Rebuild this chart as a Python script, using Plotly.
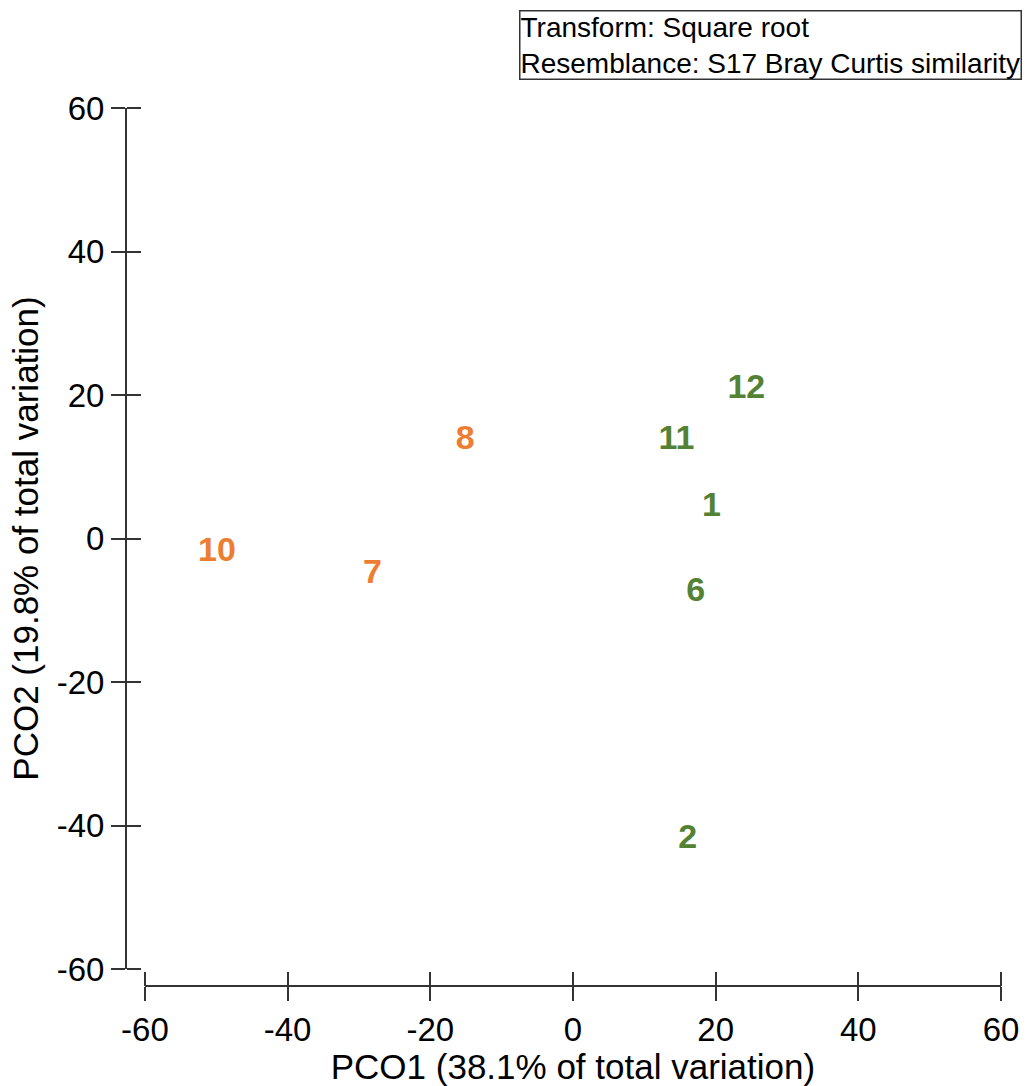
import plotly.graph_objects as go

labels_grp1 = ["12", "11", "1", "6", "2"]
pco1_grp1 = [24.3, 14.5, 19.4, 17.2, 16.1]
pco2_grp1 = [20.8, 13.7, 4.3, -7.5, -42.0]

labels_grp2 = ["8", "10", "7"]
pco1_grp2 = [-15.1, -49.9, -28.1]
pco2_grp2 = [13.7, -1.9, -5.0]

tick_vals = [-60, -40, -20, 0, 20, 40, 60]
tick_text = ["-60", "-40", "-20", "0", "20", "40", "60"]

GREEN = "#548235"
ORANGE = "#ED7D31"
AXC = "#333333"
FONT = "Liberation Sans, Arial, sans-serif"

fig = go.Figure()
fig.add_trace(go.Scatter(x=pco1_grp1, y=pco2_grp1, mode="text", text=labels_grp1,
                         textposition="middle center",
                         textfont=dict(family=FONT, size=34, color=GREEN, weight="bold"),
                         showlegend=False, hoverinfo="skip"))
fig.add_trace(go.Scatter(x=pco1_grp2, y=pco2_grp2, mode="text", text=labels_grp2,
                         textposition="middle center",
                         textfont=dict(family=FONT, size=34, color=ORANGE, weight="bold"),
                         showlegend=False, hoverinfo="skip"))
# invisible trace so the secondary (tick-only) axes are drawn
fig.add_trace(go.Scatter(x=pco1_grp2, y=pco2_grp2, xaxis="x2", yaxis="y2", mode="markers",
                         marker=dict(opacity=0), showlegend=False, hoverinfo="skip"))

W, H = 1031, 1086
L, R, T, B = 126, 26, 108, 99
pw = W - L - R
ph = H - T - B
xd0 = 19 / pw
yd0 = 17 / ph

axis_common = dict(range=[-60, 60], tickvals=tick_vals, ticktext=tick_text,
                   showgrid=False, zeroline=False)

fig.update_layout(
    width=W, height=H,
    margin=dict(l=L, r=R, t=T, b=B, pad=0),
    plot_bgcolor="white", paper_bgcolor="white",
    font=dict(family=FONT, color="black"),
    xaxis=dict(**axis_common, domain=[xd0, 1], anchor="free", position=0,
               showline=True, linecolor=AXC, linewidth=2,
               ticks="outside", ticklen=14, tickwidth=2, tickcolor=AXC,
               tickfont=dict(size=33, family=FONT, color="black"),
               title=dict(text="PCO1 (38.1% of total variation)",
                          font=dict(size=35, family=FONT, color="black"), standoff=2)),
    yaxis=dict(**axis_common, domain=[yd0, 1], anchor="free", position=0,
               showline=True, linecolor=AXC, linewidth=2,
               ticks="outside", ticklen=14, tickwidth=2, tickcolor=AXC,
               tickfont=dict(size=33, family=FONT, color="black"),
               title=dict(text="PCO2 (19.8% of total variation)",
                          font=dict(size=35, family=FONT, color="black"), standoff=6)),
    xaxis2=dict(**axis_common, domain=[xd0, 1], overlaying="x", anchor="free", position=0,
                side="top", showline=False, showticklabels=False,
                ticks="outside", ticklen=14, tickwidth=2, tickcolor=AXC),
    yaxis2=dict(**axis_common, domain=[yd0, 1], overlaying="y", anchor="free", position=0,
                side="right", showline=False, showticklabels=False,
                ticks="outside", ticklen=14, tickwidth=2, tickcolor=AXC),
)

fig.add_annotation(
    xref="paper", yref="paper",
    x=(1026 - L) / pw, y=(H - B - 10) / ph,
    xanchor="right", yanchor="top",
    text="Transform: Square root<br>Resemblance: S17 Bray Curtis similarity",
    align="left", showarrow=False,
    font=dict(size=28, family=FONT, color="black"),
    bordercolor=AXC, borderwidth=1.5, borderpad=0, bgcolor="white",
)

fig.write_html("out.html")
